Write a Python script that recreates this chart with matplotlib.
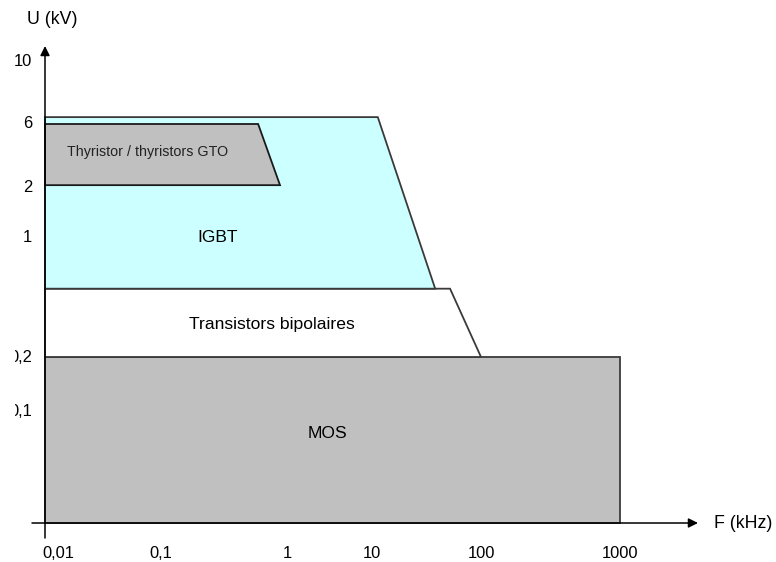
import numpy as np
import matplotlib
matplotlib.use("Agg")
import matplotlib.pyplot as plt
from matplotlib.patches import Polygon
from matplotlib.transforms import Bbox, TransformedBbox

plt.rcParams['font.family'] = ['Liberation Sans', 'DejaVu Sans']

# axis ticks (schematic, non uniform scale)
freq_ticks = [0.01, 0.1, 1, 10, 100, 1000]
freq_labels = ['0,01', '0,1', '1', '10', '100', '1000']
volt_ticks = [0.1, 0.2, 1, 2, 6, 10]
volt_labels = ['0,1', '0,2', '1', '2', '6', '10']

# domains: (f_min, f_max_top, f_max_bottom, u_bottom, u_top)
thyristor = [0.01, 0.59, 0.88, 2.1, 6.0]
igbt = [0.01, 11.3, 38.0, 0.5, 6.35]
bipolar = [0.01, 52.0, 100.0, 0.2, 0.5]
mos = [0.01, 1000.0, 1000.0, 0.0, 0.2]

# where the ticks sit on the drawing (pixels)
freq_pos = [45, 161, 287, 372, 481, 620]
volt_pos = [412, 357, 237, 188, 124, 62]
x0, y0 = 45, 523


def fx(f):
    return np.interp(np.log10(f), np.log10(freq_ticks), freq_pos)


def fy(u):
    if u <= 0:
        return y0
    return np.interp(np.log10(u), np.log10(volt_ticks), volt_pos)


fig = plt.figure(figsize=(7.76, 5.62), dpi=100)
ax = fig.add_axes([0, 0, 1, 1])
ax.set_xlim(0, 776)
ax.set_ylim(562, 0)
ax.axis('off')


def zone(d, color, edge):
    pts = [(fx(d[0]), fy(d[4])), (fx(d[1]), fy(d[4])),
           (fx(d[2]), fy(d[3])), (fx(d[0]), fy(d[3]))]
    ax.add_patch(Polygon(pts, closed=True, facecolor=color,
                         edgecolor=edge, lw=1.3))


zone(mos, '#c0c0c0', '#3a3a3a')
zone(bipolar, 'white', '#3a3a3a')
zone(igbt, '#ccffff', '#3a3a3a')
zone(thyristor, '#c0c0c0', '#1a1a1a')

ax.text(148, 152, 'Thyristor / thyristors GTO', fontsize=10.3,
        ha='center', va='center', color='#222222')
ax.text(218, 238, 'IGBT', fontsize=12.6, ha='center', va='center')
ax.text(272, 325, 'Transistors bipolaires', fontsize=12.6, ha='center', va='center')
ax.text(327, 433, 'MOS', fontsize=12.6, ha='center', va='center')

# axes with arrows
ax.annotate('', xy=(x0, 46), xytext=(x0, 538),
            arrowprops=dict(arrowstyle='-|>', color='black', lw=1.1,
                            mutation_scale=14, shrinkA=0, shrinkB=0))
ax.annotate('', xy=(698, y0), xytext=(32, y0),
            arrowprops=dict(arrowstyle='-|>', color='black', lw=1.1,
                            mutation_scale=14, shrinkA=0, shrinkB=0))
ax.text(27, 20, 'U (kV)', fontsize=12.8, ha='left', va='center')
ax.text(714, 524, 'F (kHz)', fontsize=12.8, ha='left', va='center')

# the leading zero is cut off in the original figure
cut = TransformedBbox(Bbox([[15, 0], [776, 562]]), ax.transData)
for lab, p in zip(volt_labels, volt_pos):
    t = ax.text(32, p, lab, fontsize=11.9, ha='right', va='center')
    if lab.startswith('0'):
        t.set_clip_box(cut)
        t.set_clip_on(True)

for lab, p in zip(freq_labels, freq_pos):
    if p == x0:
        ax.text(p - 3, 553, lab, fontsize=11.9, ha='left', va='center')
    else:
        ax.text(p, 553, lab, fontsize=11.9, ha='center', va='center')

fig.savefig('out.png', dpi=100)
